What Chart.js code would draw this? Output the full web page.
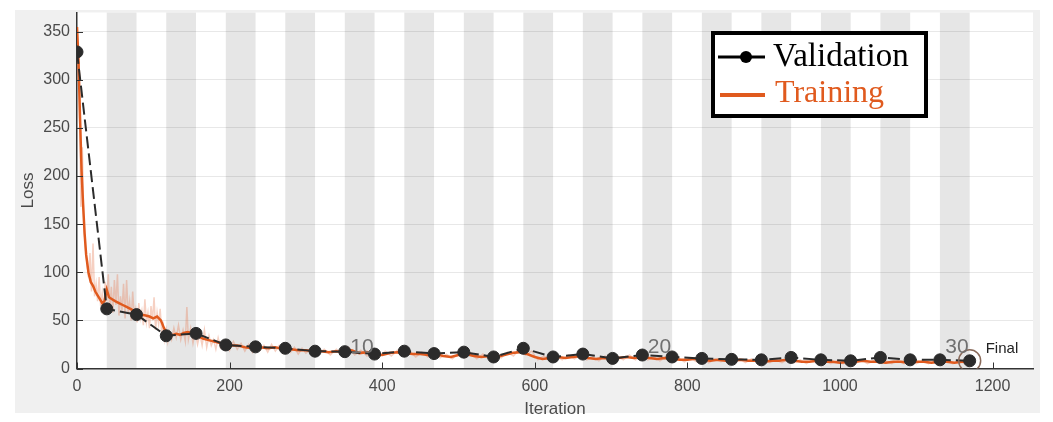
<!DOCTYPE html>
<html>
<head>
<meta charset="utf-8">
<script src="https://cdn.jsdelivr.net/npm/chart.js@4.4.1/dist/chart.umd.min.js"></script>
<style>
    html, body { margin: 0; padding: 0; background: #ffffff; }
    #wrap { width: 1053px; height: 422px; position: relative; }
</style>
</head>
<body>
<div id="wrap"><canvas id="chart"></canvas></div>
<script>
// validation loss, one point per epoch (39 iterations each)
const valIter = [0, 39, 78, 117, 156, 195, 234, 273, 312, 351, 390, 429, 468, 507, 546, 585,
    624, 663, 702, 741, 780, 819, 858, 897, 936, 975, 1014, 1053, 1092, 1131, 1170];
const valLoss = [329, 62, 56, 34, 36.5, 24.5, 22.5, 21, 18, 17.5, 15, 18, 15.5, 17, 12, 21,
    12, 15, 10.5, 14, 12, 10.5, 9.5, 9, 11.5, 9, 8, 11.5, 9, 9, 8];

// smoothed training loss
const trainIter = [0, 2, 4, 6, 8, 10, 12, 15, 18, 21, 24, 27, 30, 33, 36, 39, 42, 46, 50, 55,
    60, 65, 70, 75, 80, 85, 90, 95, 100, 105, 110, 114, 118, 122, 126, 130, 135, 140, 145, 150,
    155, 160, 165, 170, 175, 180, 185, 190, 195, 200, 210, 220, 230, 240, 250, 260, 270, 280, 290, 300,
    310, 320, 330, 340, 350, 360, 370, 380, 390, 400, 410, 420, 430, 440, 450, 460, 470, 480, 490, 500,
    510, 520, 530, 540, 550, 560, 570, 580, 590, 600, 610, 620, 630, 640, 650, 660, 670, 680, 690, 700,
    710, 720, 730, 740, 750, 760, 770, 780, 790, 800, 810, 820, 830, 840, 850, 860, 870, 880, 890, 900,
    910, 920, 930, 940, 950, 960, 970, 980, 990, 1000, 1010, 1020, 1030, 1040, 1050, 1060, 1070, 1080, 1090, 1100,
    1110, 1120, 1130, 1140, 1150, 1160, 1170];
const trainLoss = [355, 320, 260, 205, 170, 140, 118, 100, 90, 86, 80, 76, 72, 68, 70, 82, 74, 72, 70, 68,
    66, 64, 62, 60, 58, 56, 55, 54, 52, 54, 50, 42, 36, 34, 35, 36, 35, 37, 38, 37,
    34, 33, 31, 30, 29, 28, 27, 26, 25, 24, 24, 22, 21, 22, 21, 22, 20, 20, 19, 19,
    18, 18, 17, 18, 17, 19, 16, 17, 15, 14, 16, 17, 16, 15, 15, 14, 15, 13, 12, 14,
    15, 13, 12, 13, 12, 14, 16, 17, 15, 12, 10, 11, 12, 11, 12, 13, 11, 10, 11, 10,
    11, 12, 11, 12, 11, 10, 11, 10, 9, 9, 10, 9, 8, 9, 8, 8, 9, 8, 8, 7,
    8, 8, 9, 8, 7, 7, 8, 7, 7, 6, 7, 7, 8, 7, 7, 6, 7, 7, 6, 7,
    7, 6, 7, 7, 6, 7, 7];

// raw (unsmoothed) training loss, drawn faded behind
const rawIter = [0, 3, 5, 7, 9, 11, 13, 15, 17, 19, 21, 23, 25, 27, 29, 31, 33, 35, 37, 39,
    41, 43, 45, 47, 49, 51, 53, 55, 57, 59, 61, 63, 65, 67, 69, 71, 73, 75, 77, 79,
    81, 83, 85, 87, 89, 91, 93, 95, 97, 99, 101, 103, 105, 107, 109, 111, 113, 115, 117, 119,
    121, 124, 127, 130, 133, 136, 139, 142, 144, 146, 149, 152, 155, 158, 161, 164, 167, 170, 173, 176,
    179, 182, 185, 188, 191, 194, 197, 200, 205, 210, 215, 220, 225, 230, 235, 240, 245, 250, 255, 260,
    265, 270, 275, 280, 285, 290, 295, 300, 308, 316, 324, 332, 340, 348, 356, 364, 372, 380, 388, 396,
    404, 412, 420, 428, 436, 444, 452, 460, 468, 476, 484, 492, 500, 508, 516, 524, 532, 540, 548, 556,
    564, 572, 580, 588, 596, 604, 612, 620, 628, 636, 644, 652, 660, 668, 676, 684, 692, 700, 708, 716,
    724, 732, 740, 748, 756, 764, 772, 780, 788, 796, 804, 812, 820, 828, 836, 844, 852, 860, 868, 876,
    884, 892, 900, 908, 916, 924, 932, 940, 948, 956, 964, 972, 980, 988, 996, 1004, 1012, 1020, 1028, 1036,
    1044, 1052, 1060, 1068, 1076, 1084, 1092, 1100, 1108, 1116, 1124, 1132, 1140, 1148, 1156, 1164, 1170];
const rawLoss = [350, 290, 168, 230, 150, 125, 110, 95, 120, 80, 130, 75, 88, 70, 95, 65, 78, 60, 90, 70,
    98, 62, 85, 58, 92, 66, 98, 55, 75, 60, 88, 52, 92, 58, 70, 50, 80, 55, 62, 48,
    68, 52, 60, 45, 72, 48, 58, 42, 65, 50, 74, 40, 58, 46, 62, 38, 45, 30, 40, 28,
    38, 30, 42, 32, 45, 30, 40, 28, 64, 30, 42, 26, 38, 25, 36, 24, 40, 22, 34, 24,
    30, 20, 32, 22, 28, 20, 27, 19, 28, 20, 26, 18, 25, 17, 26, 19, 24, 17, 25, 18,
    24, 16, 23, 17, 22, 15, 21, 16, 21, 15, 20, 14, 20, 15, 22, 14, 19, 13, 18, 12,
    18, 13, 19, 14, 18, 12, 17, 12, 17, 11, 15, 10, 16, 11, 16, 10, 15, 10, 14, 11,
    17, 13, 20, 14, 18, 9, 13, 8, 13, 9, 14, 10, 14, 9, 12, 8, 13, 8, 13, 9,
    14, 9, 13, 9, 12, 8, 12, 8, 11, 7, 11, 7, 11, 6, 10, 7, 10, 6, 10, 6,
    10, 6, 9, 6, 9, 6, 10, 6, 9, 5, 9, 6, 8, 5, 8, 5, 8, 5, 9, 5,
    8, 5, 8, 5, 8, 5, 8, 5, 8, 5, 8, 5, 8, 5, 8, 5, 7];

const itersPerEpoch = 39;
const numEpochs = 30;
const epochMarks = [10, 20, 30];
const xTicks = [0, 200, 400, 600, 800, 1000, 1200];
const yTicks = [0, 50, 100, 150, 200, 250, 300, 350];

const ORANGE = '#e05a1e';
const DARK = '#2b2b2b';

const toPoints = (xs, ys) => xs.map((x, i) => ({ x, y: ys[i] }));

const backdrop = {
    id: 'backdrop',
    beforeDraw(chart) {
        const { ctx, chartArea: a, scales: { x } } = chart;
        ctx.save();
        ctx.fillStyle = '#f0f0f0';
        ctx.fillRect(15, 10, 1025, 403);
        ctx.fillStyle = '#ffffff';
        ctx.fillRect(a.left, a.top, a.right - a.left, a.bottom - a.top);
        // every second epoch shaded
        ctx.fillStyle = '#e6e6e6';
        for (let e = 2; e <= numEpochs; e += 2) {
            const x0 = x.getPixelForValue((e - 1) * itersPerEpoch);
            const x1 = x.getPixelForValue(e * itersPerEpoch);
            ctx.fillRect(x0, a.top, x1 - x0, a.bottom - a.top);
        }
        ctx.restore();
    },
    afterDraw(chart) {
        const { ctx, chartArea: a, scales: { x, y } } = chart;
        ctx.save();

        // inward tick marks
        ctx.strokeStyle = '#333333';
        ctx.lineWidth = 1;
        ctx.beginPath();
        xTicks.forEach((t) => {
            const px = Math.round(x.getPixelForValue(t)) + 0.5;
            ctx.moveTo(px, a.bottom);
            ctx.lineTo(px, a.bottom - 6);
        });
        yTicks.forEach((t) => {
            const py = Math.round(y.getPixelForValue(t)) + 0.5;
            ctx.moveTo(a.left, py);
            ctx.lineTo(a.left + 6, py);
        });
        ctx.stroke();

        // epoch numbers
        ctx.fillStyle = '#707070';
        ctx.font = '21px "Liberation Sans", Arial, sans-serif';
        ctx.textAlign = 'right';
        ctx.textBaseline = 'alphabetic';
        epochMarks.forEach((e) => {
            ctx.fillText(String(e), x.getPixelForValue(e * itersPerEpoch) - 1, y.getPixelForValue(16));
        });

        ctx.fillStyle = '#222222';
        ctx.font = '15px "Liberation Sans", Arial, sans-serif';
        ctx.textAlign = 'left';
        ctx.fillText('Final', x.getPixelForValue(1191), y.getPixelForValue(16));

        // legend box
        const bx = 713, by = 33, bw = 213, bh = 83;
        ctx.fillStyle = '#ffffff';
        ctx.fillRect(bx, by, bw, bh);
        ctx.strokeStyle = '#000000';
        ctx.lineWidth = 4;
        ctx.strokeRect(bx, by, bw, bh);

        ctx.strokeStyle = '#000000';
        ctx.lineWidth = 3;
        ctx.beginPath();
        ctx.moveTo(718, 57);
        ctx.lineTo(765, 57);
        ctx.stroke();
        ctx.fillStyle = '#000000';
        ctx.beginPath();
        ctx.arc(746, 57, 6, 0, Math.PI * 2);
        ctx.fill();

        ctx.strokeStyle = ORANGE;
        ctx.lineWidth = 4;
        ctx.beginPath();
        ctx.moveTo(720, 95);
        ctx.lineTo(765, 95);
        ctx.stroke();

        ctx.font = '33px "Liberation Serif", "Times New Roman", serif';
        ctx.fillStyle = '#000000';
        ctx.fillText('Validation', 773, 66);
        ctx.fillStyle = ORANGE;
        ctx.font = '32px "Liberation Serif", "Times New Roman", serif';
        ctx.fillText('Training', 775, 102);

        ctx.restore();
    },
};

const finalIdx = valIter.length - 1;
const axisFont = { family: '"Liberation Sans", Arial, sans-serif', size: 16 };

new Chart(document.getElementById('chart'), {
    type: 'line',
    data: {
        datasets: [
            {
                label: 'Final',
                data: [{ x: valIter[finalIdx], y: valLoss[finalIdx] }],
                showLine: false,
                pointRadius: 11,
                pointBackgroundColor: 'rgba(0,0,0,0)',
                pointBorderColor: '#8a6a5a',
                pointBorderWidth: 1.5,
                order: 0,
            },
            {
                label: 'Validation',
                data: toPoints(valIter, valLoss),
                borderColor: DARK,
                borderWidth: 2,
                borderDash: [12, 5],
                pointRadius: 6,
                pointBackgroundColor: DARK,
                pointBorderColor: DARK,
                pointBorderWidth: 1,
                order: 1,
            },
            {
                label: 'Training',
                data: toPoints(trainIter, trainLoss),
                borderColor: ORANGE,
                borderWidth: 2.5,
                pointRadius: 0,
                order: 2,
            },
            {
                label: 'Training (raw)',
                data: toPoints(rawIter, rawLoss),
                borderColor: 'rgba(230, 120, 80, 0.35)',
                borderWidth: 1.5,
                pointRadius: 0,
                order: 3,
            },
        ],
    },
    options: {
        responsive: true,
        maintainAspectRatio: false,
        animation: false,
        layout: { padding: { left: 18, top: 10, right: 20, bottom: 0 } },
        plugins: {
            legend: { display: false },
            tooltip: { enabled: false },
        },
        scales: {
            x: {
                type: 'linear',
                min: 0,
                max: 1253,
                afterFit: (scale) => { scale.height = 53.5; },
                afterBuildTicks: (scale) => { scale.ticks = xTicks.map((v) => ({ value: v })); },
                ticks: {
                    color: '#4a4a4a',
                    font: axisFont,
                    padding: 8,
                    maxRotation: 0,
                    callback: (v) => String(v),
                },
                grid: { drawOnChartArea: false, drawTicks: false },
                border: { color: '#333333', width: 1.5 },
                title: {
                    display: true,
                    text: 'Iteration',
                    color: '#4a4a4a',
                    font: { family: axisFont.family, size: 17 },
                    padding: { top: 0, bottom: 2 },
                },
            },
            y: {
                type: 'linear',
                min: 0,
                max: 370,
                afterFit: (scale) => {
                    scale.width = 59;
                    scale.paddingTop = 0;
                    scale.paddingBottom = 0;
                },
                afterBuildTicks: (scale) => { scale.ticks = yTicks.map((v) => ({ value: v })); },
                ticks: {
                    color: '#4a4a4a',
                    font: axisFont,
                    padding: 7,
                    callback: (v) => String(v),
                },
                grid: { color: 'rgba(0,0,0,0.09)', drawTicks: false },
                border: { color: '#333333', width: 1.5 },
                title: {
                    display: true,
                    text: 'Loss',
                    color: '#4a4a4a',
                    font: { family: axisFont.family, size: 17 },
                    padding: { top: 0, bottom: 0 },
                },
            },
        },
    },
    plugins: [backdrop],
});
</script>
</body>
</html>
